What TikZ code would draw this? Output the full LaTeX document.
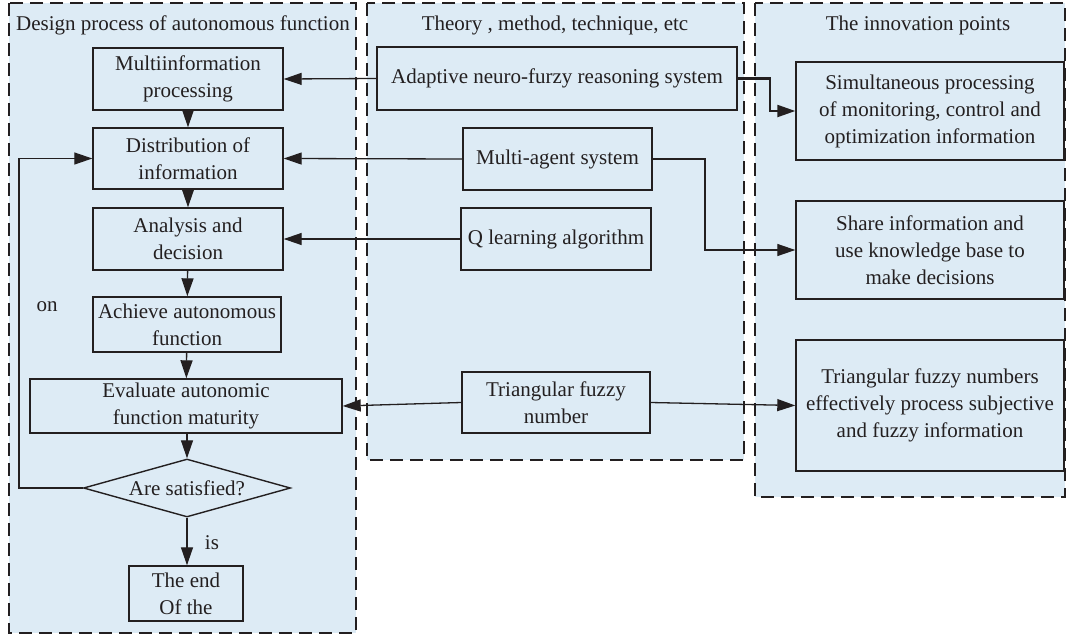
\documentclass[tikz,border=0pt]{standalone}
\usepackage{fontspec}
\setmainfont{Liberation Serif}
\usetikzlibrary{arrows.meta,shapes.geometric}
\definecolor{panelfill}{HTML}{DDEBF5}
\definecolor{ink}{HTML}{231F20}
\begin{document}
\begin{tikzpicture}[x=1pt,y=-1pt,
  every node/.style={font=\fontsize{21}{27}\selectfont,text=ink},
  panel/.style={draw=ink,fill=panelfill,line width=2.6pt,dash pattern=on 13pt off 7pt},
  box/.style={draw=ink,line width=1.4pt,rectangle,align=center,inner sep=2pt},
  cond/.style={draw=ink,line width=1.4pt,diamond,aspect=3.57,inner sep=0pt,
    minimum width=207pt,minimum height=58pt},
  link/.style={draw=ink,line width=1.3pt,-{Triangle[length=18pt,width=12pt]}},
  thicklink/.style={link,line width=2.2pt},
  lbl/.style={inner sep=0pt}]
\useasboundingbox (0,0) rectangle (1068,640);

% three dashed panels
\path[panel] (9,3) rectangle (356,633);
\path[panel] (367,3) rectangle (744,460);
\path[panel] (755,3) rectangle (1065,497);

% panel headings
\node[lbl] (h1) at (183,25) {Design process of autonomous function};
\node[lbl] (h2) at (555,25) {Theory , method, technique, etc};
\node[lbl] (h3) at (918,25) {The innovation points};

% design process flow
\node[box,minimum width=190pt,minimum height=62pt] (mip) at (188,79) {Multiinformation\\processing};
\node[box,minimum width=190pt,minimum height=61pt] (dist) at (188,158.5) {Distribution of\\information};
\node[box,minimum width=190pt,minimum height=62pt] (ana) at (188,239) {Analysis and\\decision};
\node[box,minimum width=188pt,minimum height=55pt] (ach) at (187,324.5) {Achieve autonomous\\function};
\node[box,minimum width=312pt,minimum height=54pt] (eval) at (186,406) {Evaluate autonomic\\function maturity};
\node[cond] (dec) at (187,488) {Are satisfied?};
\node[box,minimum width=114pt,minimum height=55pt] (end) at (186,593.5) {The end\\Of the};

% theories and methods
\node[box,minimum width=360pt,minimum height=63pt] (anfis) at (557,78.5) {Adaptive neuro-furzy reasoning system};
\node[box,minimum width=189pt,minimum height=62pt] (mas) at (557.5,159) {Multi-agent system};
\node[box,minimum width=190pt,minimum height=62pt] (ql) at (556,239) {Q learning algorithm};
\node[box,minimum width=188pt,minimum height=61pt] (tfn) at (556,402.5) {Triangular fuzzy\\number};

% innovation points
\node[box,minimum width=268pt,minimum height=98pt] (sim) at (930,111) {Simultaneous processing\\of monitoring, control and\\optimization information};
\node[box,minimum width=268pt,minimum height=98pt] (share) at (930,250) {Share information and\\use knowledge base to\\make decisions};
\node[box,minimum width=268pt,minimum height=131pt] (tfnum) at (930,405.5) {Triangular fuzzy numbers\\effectively process subjective\\and fuzzy information};

% flow arrows
\draw[link] (mip) -- (dist);
\draw[link] (dist) -- (ana);
\draw[link] (ana) -- (ach);
\draw[link] (ach) -- (eval);
\draw[link] (eval.south -| dec.north) -- (dec.north);
\draw[link] (dec.south) -- (end.north -| dec.south);
\coordinate (loopb) at (19,488);
\coordinate (loopt) at (19,158.5);
\draw[link] (dec.west) -- (loopb) -- (loopt) -- (dist.west);
\node[lbl] (yes) at (212,543) {is};
\node[lbl] (no) at (47,307) {on};

% methods feeding the design steps
\draw[link] (anfis.west) -- (mip.east);
\draw[link] (mas.west) -- (dist.east);
\draw[link] (ql.west) -- (ana.east);
\draw[link] (tfn.west) -- (eval.east);

% methods leading to innovation points
\coordinate (k1) at (770,78.5);
\coordinate (k2) at (770,111);
\draw[thicklink] (anfis.east) -- (k1) -- (k2) -- (sim.west);
\coordinate (m1) at (705,159);
\coordinate (m2) at (705,250);
\draw[link] (mas.east) -- (m1) -- (m2) -- (share.west);
\draw[link] (tfn.east) -- (tfnum.west);
\end{tikzpicture}
\end{document}
